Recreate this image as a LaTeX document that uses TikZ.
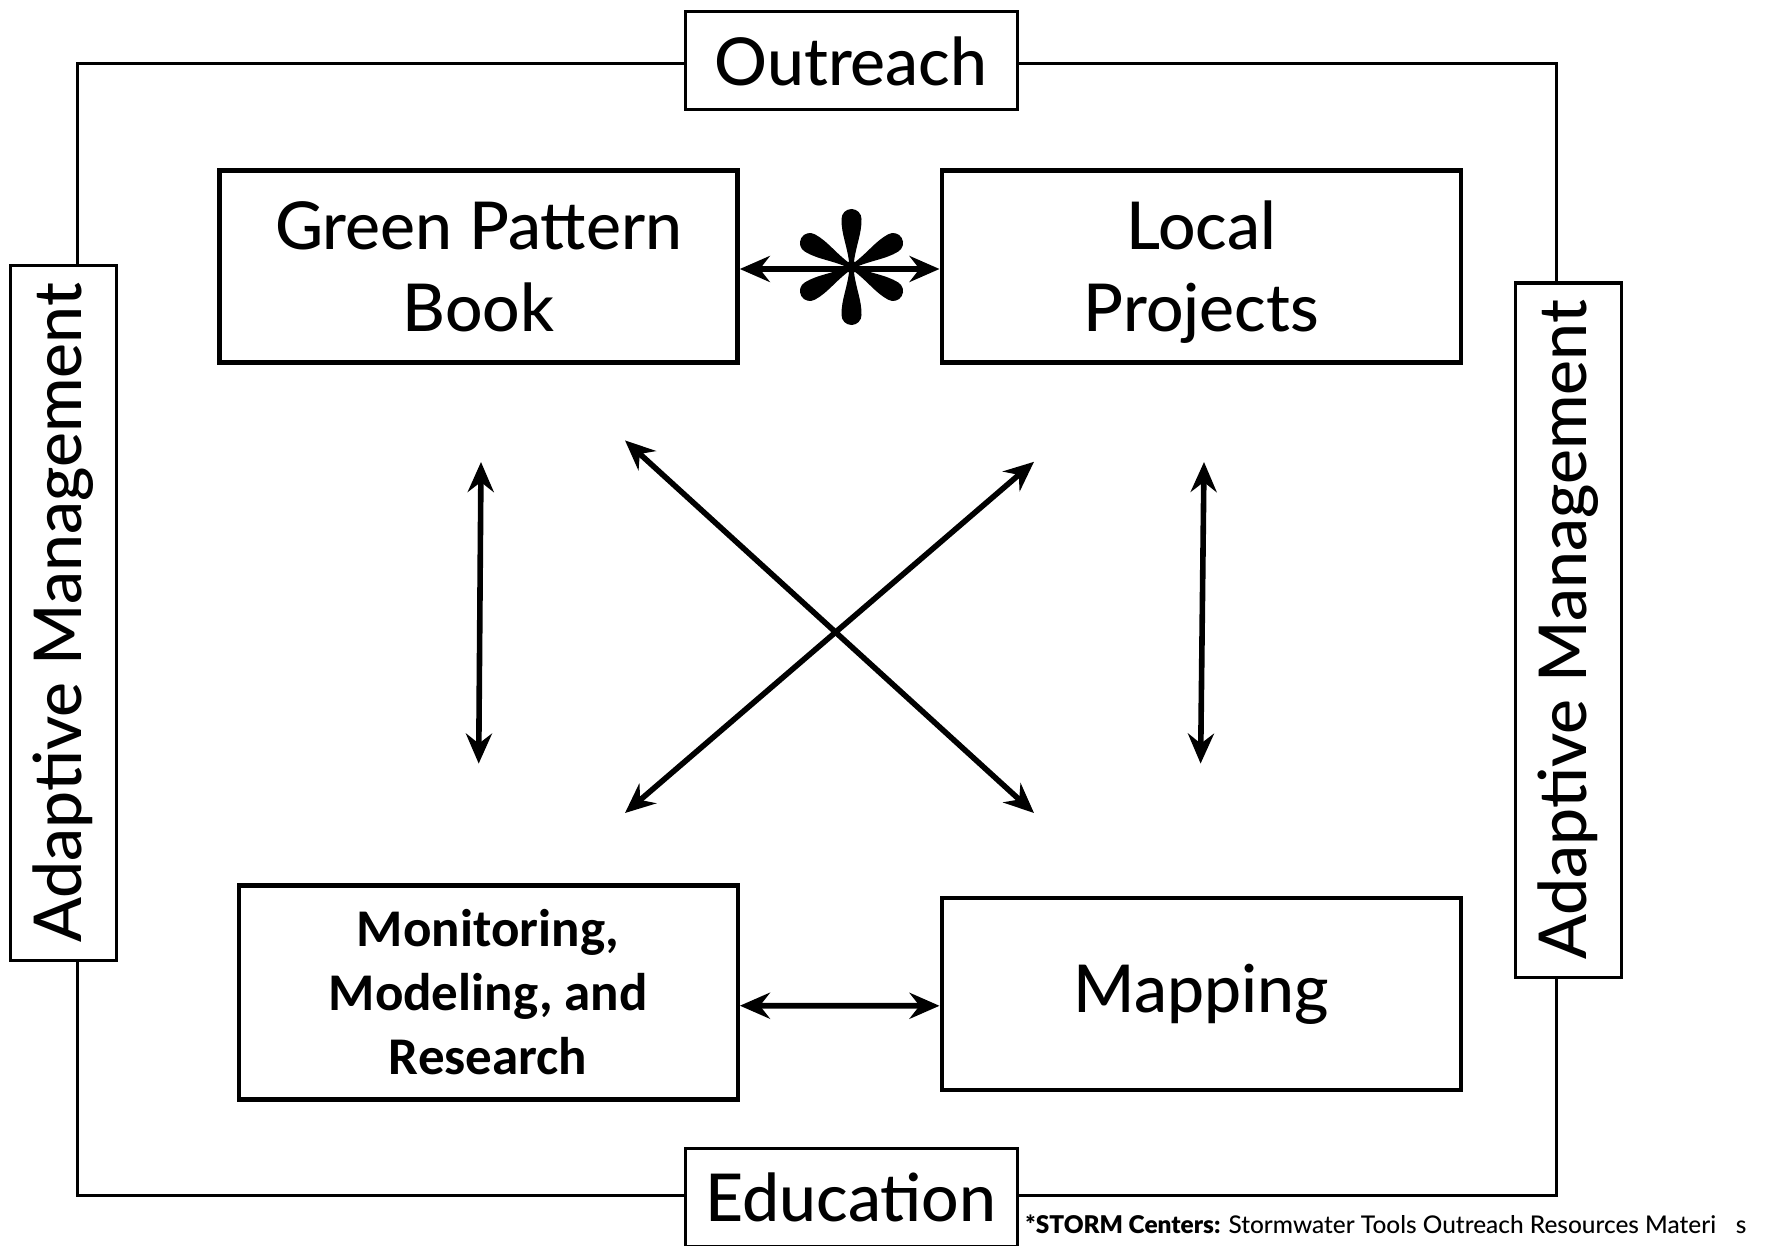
\documentclass[tikz,border=0pt]{standalone}
\usepackage{fontspec}
\setmainfont{Lato Medium}
\newfontfamily\heavyfont{Lato Black}
\newfontfamily\calibri{Carlito}
\usetikzlibrary{arrows.meta,calc}

\tikzset{
  frameline/.style={line width=1.5pt},
  tagbox/.style={draw, line width=1.5pt, fill=white, inner sep=0pt,
    align=center, font=\fontsize{33}{40}\selectfont},
  mainbox/.style={draw, line width=2.2pt, fill=white, inner sep=0pt,
    align=center, font=\fontsize{33}{41}\selectfont},
  link/.style={line width=2.8pt, {Stealth[length=15pt,width=13pt,inset=5pt]}-{Stealth[length=15pt,width=13pt,inset=5pt]}},
  petal/.style={fill=black, draw=none},
}

\begin{document}
\begin{tikzpicture}[x=0.5pt,y=-0.5pt]
\useasboundingbox (0,0) rectangle (1766,1246);

% outer loop
\draw[frameline] (77,64) rectangle (1556,1195);

% labels sitting on the loop
\node[tagbox, minimum width=166pt, minimum height=49pt] (outreach) at (851,61) {Outreach};
\node[tagbox, minimum width=166pt, minimum height=49pt] (education) at (851,1197) {Education};
\node[tagbox, minimum width=347pt, minimum height=53pt, rotate=90] (amL) at (63,613) {Adaptive Management};
\node[tagbox, minimum width=347pt, minimum height=53pt, rotate=90] (amR) at (1568,630) {Adaptive Management};

% the four components
\node[mainbox, minimum width=259pt, minimum height=96pt] (gpb) at (478.6,266.4) {Green Pattern\\Book};
\node[mainbox, minimum width=259.5pt, minimum height=96pt] (lp) at (1201.2,266.4) {Local\\Pro\smash{j}ects};
\node[mainbox, minimum width=249.5pt, minimum height=107pt,
      font=\calibri\bfseries\fontsize{26.5}{32}\selectfont] (mmr) at (488.2,992.3)
      {Monitoring,\\Modeling, and\\Research};
\node[mainbox, minimum width=259.5pt, minimum height=96pt] (map) at (1201.2,994) {Mapping};

% free ends of the middle arrows
\coordinate (lvT) at (481,462);
\coordinate (lvB) at (478.7,763.6);
\coordinate (rvT) at (1204,462);
\coordinate (rvB) at (1200.6,763.6);
\coordinate (d1a) at (625,440.4);
\coordinate (d1b) at (1034,813);
\coordinate (d2a) at (1034,461.8);
\coordinate (d2b) at (625,813);

% connectors
\draw[link] ([yshift=-1.3pt]gpb.east) -- ([yshift=-1.3pt]lp.west);
\draw[link] ([yshift=-6.7pt]mmr.east) -- ([yshift=-5.9pt]map.west);
\draw[link] (lvT) -- (lvB);
\draw[link] (rvT) -- (rvB);
\draw[link] (d1a) -- (d1b);
\draw[link] (d2a) -- (d2b);

% six-petal asterisk on the top link
\coordinate (ast) at (851.5,267);
\begin{scope}[shift={(ast)}, x=0.5pt, y=0.5pt]
  \foreach \ang in {30,90,150,210,270,330}{
    \fill[petal, rotate=\ang]
      (0,2) .. controls (18,3) and (33,10.5) .. (48,10)
      arc[start angle=90, end angle=-90, radius=10]
      .. controls (33,-10.5) and (18,-3) .. (0,-2) -- cycle;
  }
  \fill (0,0) circle (6);
\end{scope}

% footnote
\node[anchor=base west, inner sep=0pt, font=\fontsize{12.2}{15}\selectfont] (note) at (1025,1233)
  {{\heavyfont *STORM Centers:} Stormwater Tools Outreach Resources Materi\hspace{0.8em}s};
\end{tikzpicture}
\end{document}
